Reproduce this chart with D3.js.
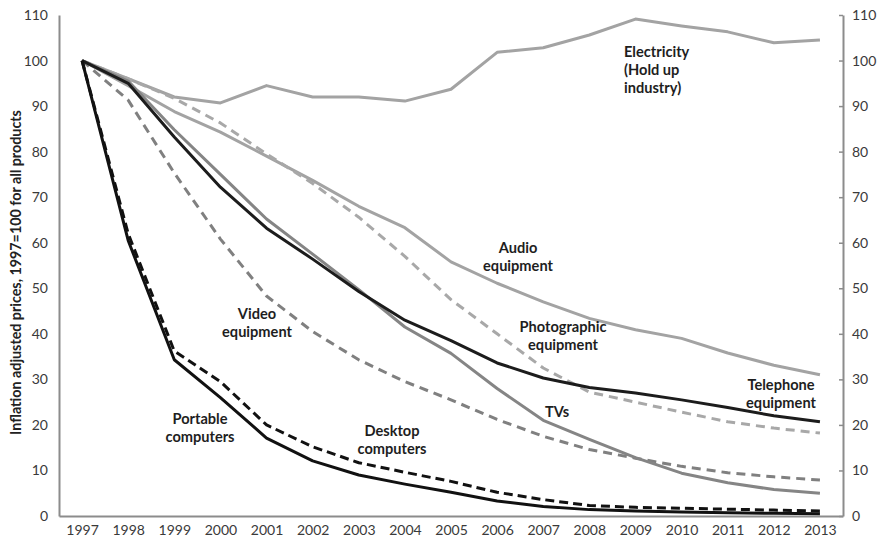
<!DOCTYPE html>
<html><head><meta charset="utf-8">
<script src="https://cdn.jsdelivr.net/npm/d3@7"></script>
<style>
body{margin:0;background:#fff;}
svg{display:block;font-family:Lato,"Open Sans",sans-serif;}
</style></head>
<body><svg id="c" width="882" height="542"></svg>
<script>
const years = [1997,1998,1999,2000,2001,2002,2003,2004,2005,2006,2007,2008,2009,2010,2011,2012,2013];
const electricity = [100,96,92,90.7,94.5,92,92,91.1,93.7,101.8,102.8,105.6,109.1,107.6,106.3,103.9,104.5];
const audio = [100,94.5,88.8,84.3,79,73.7,68,63.3,55.8,51.1,47,43.4,40.9,39,35.8,33.1,31];
const photographic = [100,96,91.7,86.3,79.5,73,65.6,57,47.5,40,32.5,27.2,25,22.8,20.7,19.3,18.2];
const telephone = [100,95,83.2,72.2,63.2,56.4,49.3,43,38.5,33.6,30.3,28.2,27,25.5,23.8,22,20.7];
const tvs = [100,95.5,84.8,75,65.2,57.5,49.7,41.5,35.7,28,21,16.8,12.8,9.4,7.3,5.8,5];
const video = [100,91.3,75.3,60.8,48.3,40.5,34.3,29.5,25.5,21.2,17.5,14.6,12.7,10.9,9.5,8.6,7.9];
const portable = [100,60.5,34.3,26,17.1,12.1,9,7,5.2,3.3,2.1,1.4,1.1,0.9,0.7,0.6,0.5];
const desktop = [100,62,36.2,29.5,20,15.2,11.7,9.6,7.6,5.2,3.6,2.3,1.9,1.7,1.5,1.3,1.1];
const yTicks = [0,10,20,30,40,50,60,70,80,90,100,110];

const series = [
  {name:"Electricity", values:electricity, color:"#a3a3a3", dash:null},
  {name:"Audio", values:audio, color:"#a3a3a3", dash:null},
  {name:"Photographic", values:photographic, color:"#a8a8a8", dash:"9,6"},
  {name:"Video", values:video, color:"#808080", dash:"9,6"},
  {name:"TVs", values:tvs, color:"#858585", dash:null},
  {name:"Telephone", values:telephone, color:"#1c1c1c", dash:null},
  {name:"Desktop", values:desktop, color:"#111", dash:"9,5"},
  {name:"Portable", values:portable, color:"#111", dash:null}
];

const labels = [
  {lines:["Electricity","(Hold up","industry)"], x:624, y:52, anchor:"start"},
  {lines:["Audio","equipment"], x:518, y:248, anchor:"middle"},
  {lines:["Video","equipment"], x:257, y:314, anchor:"middle"},
  {lines:["Portable","computers"], x:200, y:419, anchor:"middle"},
  {lines:["Desktop","computers"], x:392, y:431, anchor:"middle"},
  {lines:["Photographic","equipment"], x:563, y:327, anchor:"middle"},
  {lines:["TVs"], x:557, y:412, anchor:"middle"},
  {lines:["Telephone","equipment"], x:781, y:385, anchor:"middle"}
];

const svg = d3.select("#c");
const L = 59, R = 843, T = 15, B = 516;
const x = d3.scalePoint().domain(years).range([L,R]).padding(0.5);
const y = d3.scaleLinear().domain([0,110]).range([B,T]);
const axisColor = "#8c8c8c", textColor = "#3a3a3a";

// left axis
const la = svg.append("g").attr("transform",`translate(${L},0)`)
  .call(d3.axisLeft(y).tickValues(yTicks).tickSize(0).tickPadding(11));
la.select(".domain").attr("stroke",axisColor).attr("stroke-width",2);
la.selectAll("text").attr("font-size",14).attr("fill",textColor).attr("font-family","Lato,'Open Sans',sans-serif");

// right axis
const ra = svg.append("g").attr("transform",`translate(${R},0)`)
  .call(d3.axisRight(y).tickValues(yTicks).tickSizeInner(-4).tickSizeOuter(0).tickPadding(9));
ra.select(".domain").attr("stroke",axisColor).attr("stroke-width",2);
ra.selectAll(".tick line").attr("stroke",axisColor).attr("stroke-width",1.5);
ra.selectAll("text").attr("font-size",14).attr("fill",textColor).attr("font-family","Lato,'Open Sans',sans-serif").attr("x",9);

// bottom axis
const ba = svg.append("g").attr("transform",`translate(0,${B})`)
  .call(d3.axisBottom(x).tickSize(0).tickPadding(9));
ba.select(".domain").attr("stroke",axisColor).attr("stroke-width",2);
ba.selectAll("text").attr("font-size",14).attr("fill",textColor).attr("font-family","Lato,'Open Sans',sans-serif");

// y title
svg.append("text").attr("transform",`translate(21,${(T+B)/2+7}) rotate(-90)`)
  .attr("text-anchor","middle").attr("font-size",14.3).attr("font-weight","bold").attr("fill","#222")
  .text("Inflation adjusted prices, 1997=100 for all products");

const line = d3.line().x((d,i)=>x(years[i])).y(d=>y(d));
svg.append("g").selectAll("path").data(series).join("path")
  .attr("d",d=>line(d.values)).attr("fill","none")
  .attr("stroke",d=>d.color).attr("stroke-width",3)
  .attr("stroke-dasharray",d=>d.dash).attr("stroke-linejoin","round");

const lg = svg.append("g");
labels.forEach(l=>{
  const t = lg.append("text").attr("text-anchor",l.anchor).attr("font-size",14.6)
    .attr("font-weight","bold").attr("fill","#1e1e1e");
  l.lines.forEach((s,i)=>t.append("tspan").attr("x",l.x).attr("y",l.y+5+i*18).text(s));
});
</script></body></html>
